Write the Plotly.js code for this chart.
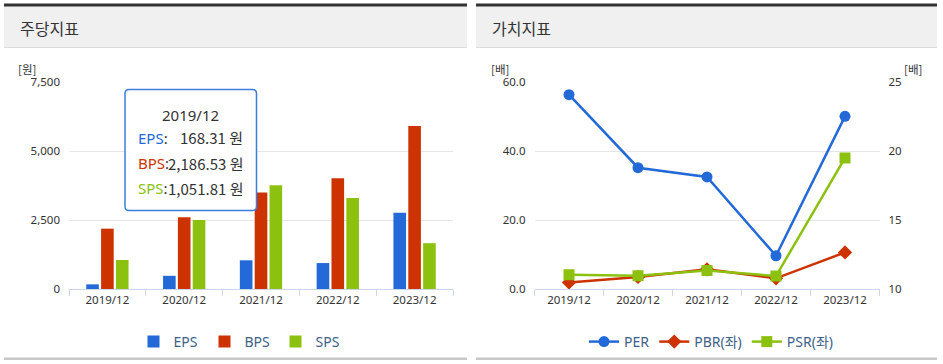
<!DOCTYPE html>
<html>
<head>
<meta charset="utf-8">
<script src="https://cdn.plot.ly/plotly-3.0.1.min.js"></script>
<style>
  html, body { margin: 0; padding: 0; background: #fff; }
  #chart { width: 943px; height: 364px; }
</style>
</head>
<body>
<div id="chart"></div>
<script>
// ---- data ----
const categories = ['2019/12', '2020/12', '2021/12', '2022/12', '2023/12'];
const eps = [168.31, 478, 1040, 940, 2760];
const bps = [2186.53, 2600, 3500, 4010, 5910];
const sps = [1051.81, 2500, 3760, 3300, 1660];
const per = [24.08, 18.79, 18.12, 12.41, 22.51];
const pbr = [1.9, 3.5, 5.7, 3.1, 10.6];
const psr = [4.1, 3.85, 5.35, 3.75, 38.0];
const tooltipIndex = 0;

// ---- helpers (pixel -> paper) ----
const W = 943, H = 364;
const X = px => px / W;
const Y = py => 1 - py / H;

const C_EPS = '#2369d8', C_BPS = '#cc3300', C_SPS = '#8cc110';
const FONT = "'Noto Sans', 'Noto Sans CJK KR', sans-serif";
const KFONT = "'Noto Sans CJK KR', 'Noto Sans', sans-serif";

const traces = [
  { type: 'bar', name: 'EPS', x: categories, y: eps, xaxis: 'x', yaxis: 'y',
    marker: { color: C_EPS }, legend: 'legend', hoverinfo: 'skip' },
  { type: 'bar', name: 'BPS', x: categories, y: bps, xaxis: 'x', yaxis: 'y',
    marker: { color: C_BPS }, legend: 'legend', hoverinfo: 'skip' },
  { type: 'bar', name: 'SPS', x: categories, y: sps, xaxis: 'x', yaxis: 'y',
    marker: { color: C_SPS }, legend: 'legend', hoverinfo: 'skip' },
  { type: 'scatter', mode: 'lines+markers', name: 'PER', x: categories, y: per,
    xaxis: 'x2', yaxis: 'y3', legend: 'legend2', hoverinfo: 'skip',
    line: { color: C_EPS, width: 2.5 }, marker: { symbol: 'circle', size: 11, color: C_EPS } },
  { type: 'scatter', mode: 'lines+markers', name: 'PBR(좌)', x: categories, y: pbr,
    xaxis: 'x2', yaxis: 'y2', legend: 'legend2', hoverinfo: 'skip',
    line: { color: C_BPS, width: 2.5 }, marker: { symbol: 'diamond', size: 11, color: C_BPS } },
  { type: 'scatter', mode: 'lines+markers', name: 'PSR(좌)', x: categories, y: psr,
    xaxis: 'x2', yaxis: 'y2', legend: 'legend2', hoverinfo: 'skip',
    line: { color: C_SPS, width: 2.5 }, marker: { symbol: 'square', size: 11, color: C_SPS } }
];

const tickFont = { family: FONT, size: 11.5, color: '#333' };
const xCommon = {
  type: 'category', showgrid: false, zeroline: false, range: [-0.5, 4.5],
  showline: true, linecolor: '#ccd6eb', linewidth: 1,
  ticks: 'outside', tickson: 'boundaries', ticklen: 6, tickcolor: '#ccd6eb', tickwidth: 1,
  tickfont: tickFont, fixedrange: true
};
const yCommon = {
  showgrid: true, gridcolor: '#e6e6e6', gridwidth: 1, zeroline: false,
  showline: false, ticks: '', tickfont: tickFont, fixedrange: true, ticklabelstandoff: 8
};

// rounded tooltip box
function roundRect(x0, y0, x1, y1, r) {
  return `M${X(x0 + r)},${Y(y0)} L${X(x1 - r)},${Y(y0)} Q${X(x1)},${Y(y0)} ${X(x1)},${Y(y0 + r)} ` +
         `L${X(x1)},${Y(y1 - r)} Q${X(x1)},${Y(y1)} ${X(x1 - r)},${Y(y1)} ` +
         `L${X(x0 + r)},${Y(y1)} Q${X(x0)},${Y(y1)} ${X(x0)},${Y(y1 - r)} ` +
         `L${X(x0)},${Y(y0 + r)} Q${X(x0)},${Y(y0)} ${X(x0 + r)},${Y(y0)} Z`;
}

const panels = [[4, 467], [476, 937]];
const shapes = [];
panels.forEach(([a, b]) => {
  shapes.push({ type: 'rect', xref: 'paper', yref: 'paper', x0: X(a), x1: X(b), y0: Y(47), y1: Y(6),
    fillcolor: '#f0f0f0', line: { width: 0 }, layer: 'below' });
  shapes.push({ type: 'rect', xref: 'paper', yref: 'paper', x0: X(a), x1: X(b), y0: Y(6.5), y1: Y(3.5),
    fillcolor: '#333333', line: { width: 0 }, layer: 'below' });
  shapes.push({ type: 'line', xref: 'paper', yref: 'paper', x0: X(a), x1: X(b), y0: Y(47.5), y1: Y(47.5),
    line: { color: '#dcdcdc', width: 1 }, layer: 'below' });
  shapes.push({ type: 'rect', xref: 'paper', yref: 'paper', x0: X(a), x1: X(b), y0: Y(360), y1: Y(357.5),
    fillcolor: '#c8c8c8', line: { width: 0 }, layer: 'below' });
});
shapes.push({ type: 'path', xref: 'paper', yref: 'paper', path: roundRect(125, 89.5, 256.5, 210.5, 4),
  fillcolor: '#ffffff', line: { color: '#3d7ddd', width: 1.5 }, layer: 'above' });

const fmt = v => v.toLocaleString('en-US', { minimumFractionDigits: 2, maximumFractionDigits: 2 });
const ttFont = { family: FONT, size: 15, color: '#333' };
const ttRows = [
  ['EPS', C_EPS, eps[tooltipIndex], 137.5],
  ['BPS', C_BPS, bps[tooltipIndex], 163],
  ['SPS', C_SPS, sps[tooltipIndex], 188]
];

const annotations = [
  { text: '주당지표', x: X(18), y: Y(28), xref: 'paper', yref: 'paper', xanchor: 'left', yanchor: 'middle',
    showarrow: false, font: { family: KFONT, size: 16, color: '#333' } },
  { text: '가치지표', x: X(490), y: Y(28), xref: 'paper', yref: 'paper', xanchor: 'left', yanchor: 'middle',
    showarrow: false, font: { family: KFONT, size: 16, color: '#333' } },
  { text: '[원]', x: X(16), y: Y(69), xref: 'paper', yref: 'paper', xanchor: 'left', yanchor: 'middle',
    showarrow: false, font: { family: KFONT, size: 11.5, color: '#333' } },
  { text: '[배]', x: X(489), y: Y(69), xref: 'paper', yref: 'paper', xanchor: 'left', yanchor: 'middle',
    showarrow: false, font: { family: KFONT, size: 11.5, color: '#333' } },
  { text: '[배]', x: X(902), y: Y(69), xref: 'paper', yref: 'paper', xanchor: 'left', yanchor: 'middle',
    showarrow: false, font: { family: KFONT, size: 11.5, color: '#333' } },
  { text: categories[tooltipIndex], x: X(190.5), y: Y(114.5), xref: 'paper', yref: 'paper',
    xanchor: 'center', yanchor: 'middle', showarrow: false, font: ttFont }
];
ttRows.forEach(([lab, col, val, py]) => {
  annotations.push({ text: `<span style="color:${col}">${lab}</span>:`, x: X(136), y: Y(py),
    xref: 'paper', yref: 'paper', xanchor: 'left', yanchor: 'middle', showarrow: false, font: ttFont });
  annotations.push({ text: `${fmt(val)} 원`, x: X(245), y: Y(py),
    xref: 'paper', yref: 'paper', xanchor: 'right', yanchor: 'middle', showarrow: false,
    font: { family: KFONT, size: 15, color: '#333' } });
});

const legendCommon = {
  orientation: 'h', xanchor: 'center', yanchor: 'middle', bgcolor: 'rgba(0,0,0,0)',
  font: { family: FONT, size: 14, color: '#3e5f87' }, itemclick: false, itemdoubleclick: false
};

const layout = {
  width: W, height: H,
  margin: { l: 0, r: 0, t: 0, b: 0 },
  paper_bgcolor: '#fff', plot_bgcolor: 'rgba(0,0,0,0)',
  barmode: 'group', bargap: 0.42, bargroupgap: 0.15,
  hovermode: false,
  xaxis: Object.assign({}, xCommon, { domain: [X(69), X(453)], anchor: 'y' }),
  yaxis: Object.assign({}, yCommon, { domain: [Y(289), Y(82)], anchor: 'x',
    range: [0, 7500], dtick: 2500, tick0: 0, tickformat: ',d' }),
  xaxis2: Object.assign({}, xCommon, { domain: [X(534.5), X(879.5)], anchor: 'y2' }),
  yaxis2: Object.assign({}, yCommon, { domain: [Y(289), Y(82)], anchor: 'x2',
    range: [0, 60], dtick: 20, tick0: 0, tickformat: '.1f' }),
  yaxis3: Object.assign({}, yCommon, { overlaying: 'y2', side: 'right', anchor: 'x2', showgrid: false,
    range: [10, 25], dtick: 5, tick0: 10, tickformat: 'd' }),
  legend: Object.assign({}, legendCommon, { x: X(240), y: Y(342), entrywidth: 26 }),
  legend2: Object.assign({}, legendCommon, { x: X(711), y: Y(342) }),
  shapes: shapes,
  annotations: annotations,
  showlegend: true
};

Plotly.newPlot('chart', traces, layout, { staticPlot: true, displayModeBar: false });
</script>
</body>
</html>
